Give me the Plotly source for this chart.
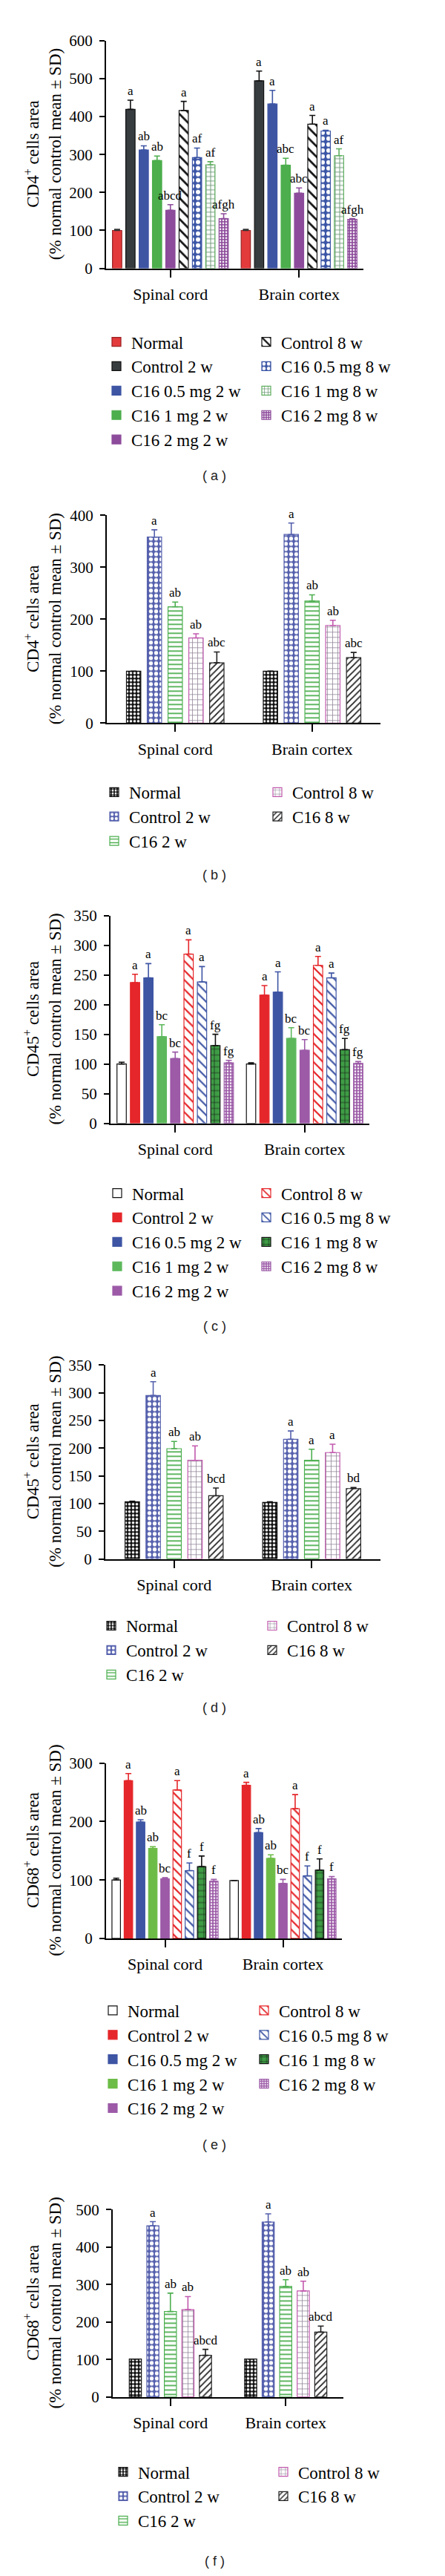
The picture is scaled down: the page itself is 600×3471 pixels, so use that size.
import plotly.graph_objects as go

W, H = 600, 3471
ML = MR = 10
PW = W - ML - MR

regions = ["Spinal cord", "Brain cortex"]

groups_9 = ["Normal", "Control 2 w", "C16 0.5 mg 2 w", "C16 1 mg 2 w", "C16 2 mg 2 w",
            "Control 8 w", "C16 0.5 mg 8 w", "C16 1 mg 8 w", "C16 2 mg 8 w"]
groups_5 = ["Normal", "Control 2 w", "C16 2 w", "Control 8 w", "C16 8 w"]

# (a) CD4+ area, dose groups
a_spinal = [100, 419, 312, 284, 153, 416, 292, 273, 131]
a_spinal_sd = [3, 24, 11, 12, 15, 24, 25, 8, 13]
a_brain = [100, 494, 433, 272, 198, 380, 362, 297, 129]
a_brain_sd = [3, 26, 36, 18, 14, 23, 2, 18, 2]
a_spinal_sig = ["", "a", "ab", "ab", "abcd", "a", "af", "af", "afgh"]
a_brain_sig = ["", "a", "a", "abc", "abc", "a", "a", "af", "afgh"]

# (b) CD4+ area
b_spinal = [100, 358, 224, 164, 116]
b_spinal_sd = [0, 14, 9, 8, 21]
b_brain = [100, 363, 235, 188, 126]
b_brain_sd = [0, 22, 12, 10, 10]
b_spinal_sig = ["", "a", "ab", "ab", "abc"]
b_brain_sig = ["", "a", "ab", "ab", "abc"]

# (c) CD45+ area, dose groups
c_spinal = [100, 237, 245, 146, 109, 285, 238, 131, 102]
c_spinal_sd = [3, 14, 24, 20, 11, 24, 26, 19, 4]
c_brain = [100, 216, 221, 143, 123, 266, 245, 124, 101]
c_brain_sd = [2, 16, 34, 18, 18, 15, 8, 19, 3]
c_spinal_sig = ["", "a", "a", "bc", "bc", "a", "a", "fg", "fg"]
c_brain_sig = ["", "a", "a", "bc", "bc", "a", "a", "fg", "fg"]

# (d) CD45+ area
d_spinal = [103, 295, 199, 178, 114]
d_spinal_sd = [1, 25, 13, 26, 14]
d_brain = [102, 216, 178, 192, 127]
d_brain_sd = [1, 15, 20, 15, 2]
d_spinal_sig = ["", "a", "ab", "ab", "bcd"]
d_brain_sig = ["", "a", "a", "a", "bd"]

# (e) CD68+ area, dose groups
e_spinal = [100, 270, 199, 154, 102, 254, 116, 123, 98]
e_spinal_sd = [3, 12, 4, 3, 2, 16, 13, 18, 3]
e_brain = [99, 262, 181, 137, 94, 222, 107, 117, 102]
e_brain_sd = [0, 5, 7, 6, 7, 24, 17, 19, 4]
e_spinal_sig = ["", "a", "ab", "ab", "bc", "a", "f", "f", "f"]
e_brain_sig = ["", "a", "ab", "ab", "bc", "a", "f", "f", "f"]

# (f) CD68+ area
f_spinal = [101, 457, 228, 233, 111]
f_spinal_sd = [0, 11, 49, 35, 16]
f_brain = [101, 467, 295, 283, 173]
f_brain_sd = [0, 22, 18, 26, 16]
f_spinal_sig = ["", "a", "ab", "ab", "abcd"]
f_brain_sig = ["", "a", "ab", "ab", "abcd"]

SERIF = "Liberation Serif"
SANS = "Liberation Sans"

# bar looks
def st(fill, line, err=None, shape="", fg=None, size=8, sol=0.3):
    return dict(fill=fill, line=line, err=err or line, shape=shape, fg=fg, size=size, sol=sol)

style_a = [
    st("#e33b3c", "#9a1f20", "#333333"),
    st("#373c3f", "#111111"),
    st("#3e55a4", "#3e55a4"),
    st("#4cae4c", "#4cae4c"),
    st("#8d4b9b", "#8d4b9b"),
    st("white", "#111111", shape="\\", fg="#111111", size=10, sol=0.28),
    st("#3a54a5", "#3a54a5", shape=".", fg="white", size=8, sol=0.45),
    st("white", "#5fae5f", shape="+", fg="#6f9a78", size=6, sol=0.3),
    st("#8d4b9b", "#8d4b9b", shape=".", fg="white", size=4, sol=0.35),
]
style_b = [
    st("#111111", "#111111", shape=".", fg="white", size=5, sol=0.4),
    st("#5560ad", "#5560ad", shape=".", fg="white", size=7, sol=0.45),
    st("white", "#4daf50", shape="-", fg="#4daf50", size=6, sol=0.3),
    st("white", "#c25aae", shape="+", fg="#8c7e92", size=7, sol=0.2),
    st("white", "#222222", shape="/", fg="#222222", size=6, sol=0.3),
]
style_c = [
    st("white", "#111111"),
    st("#e5262a", "#e5262a"),
    st("#3e55a4", "#3e55a4"),
    st("#5db85c", "#5db85c"),
    st("#9c5aa7", "#9c5aa7"),
    st("white", "#e5262a", shape="\\", fg="#e5262a", size=9, sol=0.25),
    st("white", "#3e55a4", shape="\\", fg="#3e55a4", size=9, sol=0.25),
    st("#3e9c45", "#111111", shape="+", fg="#111111", size=8, sol=0.15),
    st("#9c5aa7", "#9c5aa7", shape=".", fg="white", size=4, sol=0.35),
]
style_e = [dict(s) for s in style_c]
style_e[3] = st("#6dbc47", "#6dbc47")

cd_title = "{}<sup>+</sup> cells area<br>(% normal control mean ± SD)"

panels = [
    dict(names=groups_9, sp=a_spinal, sp_sd=a_spinal_sd, br=a_brain, br_sd=a_brain_sd,
         sp_sig=a_spinal_sig, br_sig=a_brain_sig, style=style_a, marker="CD4", tag="a",
         x0=135, x1=482, yb=344, yt=35, top=600, dtick=100, leg=(169, 443, 202), lab=625),
    dict(names=groups_5, sp=b_spinal, sp_sd=b_spinal_sd, br=b_brain, br_sd=b_brain_sd,
         sp_sig=b_spinal_sig, br_sig=b_brain_sig, style=style_b, marker="CD4", tag="b",
         x0=136, x1=505, yb=961, yt=679, top=400, dtick=100, leg=(166, 1054, 220), lab=1167),
    dict(names=groups_9, sp=c_spinal, sp_sd=c_spinal_sd, br=c_brain, br_sd=c_brain_sd,
         sp_sig=c_spinal_sig, br_sig=c_brain_sig, style=style_c, marker="CD45", tag="c",
         x0=141, x1=490, yb=1504, yt=1222, top=350, dtick=50, leg=(170, 1598, 201), lab=1779),
    dict(names=groups_5, sp=d_spinal, sp_sd=d_spinal_sd, br=d_brain, br_sd=d_brain_sd,
         sp_sig=d_spinal_sig, br_sig=d_brain_sig, style=style_b, marker="CD45", tag="d",
         x0=134, x1=505, yb=2095, yt=1832, top=350, dtick=50, leg=(162, 2185, 217), lab=2297),
    dict(names=groups_9, sp=e_spinal, sp_sd=e_spinal_sd, br=e_brain, br_sd=e_brain_sd,
         sp_sig=e_spinal_sig, br_sig=e_brain_sig, style=style_e, marker="CD68", tag="e",
         x0=135, x1=453, yb=2610, yt=2372, top=300, dtick=100, leg=(164, 2707, 204), lab=2890),
    dict(names=groups_5, sp=f_spinal, sp_sd=f_spinal_sd, br=f_brain, br_sd=f_brain_sd,
         sp_sig=f_spinal_sig, br_sig=f_brain_sig, style=style_b, marker="CD68", tag="f",
         x0=144, x1=455, yb=3232, yt=2978, top=500, dtick=100, leg=(178, 3333, 216), lab=3455),
]


def px_x(v):
    return (v - ML) / PW


def px_y(v):
    return 1 - v / H


fig = go.Figure()
annotations = []
layout = {}

for k, p in enumerate(panels, start=1):
    sfx = "" if k == 1 else str(k)
    xa, ya, lg = "x" + sfx, "y" + sfx, "legend" + sfx
    names = p["names"]
    n = len(names)
    slot, bw = (0.1035, 0.072) if n == 9 else (0.152, 0.105)
    half = (n + 1) // 2

    for i, name in enumerate(names):
        s = p["style"][i]
        centre = (i - (n - 1) / 2) * slot
        rank = 2 * i if i < half else 2 * (i - half) + 1
        mk = dict(color=s["fill"], line=dict(color=s["line"], width=1.2))
        if s["shape"]:
            mk["pattern"] = dict(shape=s["shape"], fgcolor=s["fg"], fgopacity=1,
                                 size=s["size"], solidity=s["sol"], fillmode="overlay")
        fig.add_trace(go.Bar(
            x=regions, y=[p["sp"][i], p["br"][i]], name=name,
            xaxis=xa, yaxis=ya, legend=lg, legendrank=rank + 1,
            width=bw, offset=centre - bw / 2, marker=mk,
            error_y=dict(type="data", symmetric=False,
                         array=[p["sp_sd"][i], p["br_sd"][i]], arrayminus=[0, 0],
                         color=s["err"], thickness=1.6, width=4),
        ))
        for j, (v, e, sig) in enumerate([(p["sp"][i], p["sp_sd"][i], p["sp_sig"][i]),
                                         (p["br"][i], p["br_sd"][i], p["br_sig"][i])]):
            if sig:
                annotations.append(dict(
                    x=j + centre, y=v + e, xref=xa, yref=ya, text=sig, showarrow=False,
                    yanchor="bottom", yshift=1, font=dict(family=SERIF, size=17, color="black")))

    layout["xaxis" + sfx] = dict(
        domain=[px_x(p["x0"]), px_x(p["x1"])], anchor=ya, type="category",
        range=[-0.5, 1.5], showline=True, linecolor="black", linewidth=2,
        ticks="outside", ticklen=10, tickwidth=1.6, tickcolor="black",
        ticklabelstandoff=4, showgrid=False, zeroline=False,
        tickfont=dict(family=SERIF, size=22, color="black"))
    layout["yaxis" + sfx] = dict(
        domain=[px_y(p["yb"]), px_y(p["yt"])], anchor=xa, range=[0, p["top"]],
        tick0=0, dtick=p["dtick"], showline=True, linecolor="black", linewidth=2,
        ticks="outside", ticklen=7, tickwidth=1.6, tickcolor="black",
        ticklabelstandoff=5, showgrid=False, zeroline=False,
        tickfont=dict(family=SERIF, size=21, color="black"))

    tx, row1, colsp = p["leg"]
    layout[lg] = dict(
        orientation="h", x=px_x(tx - 40), y=px_y(row1 - 21), xanchor="left", yanchor="top",
        entrywidth=colsp - 45, entrywidthmode="pixels", bgcolor="rgba(0,0,0,0)",
        font=dict(family=SERIF, size=23, color="black"), tracegroupgap=0)

    annotations.append(dict(
        x=px_x(50), y=px_y((p["yb"] + p["yt"]) / 2), xref="paper", yref="paper",
        text=cd_title.format(p["marker"]), textangle=-90, showarrow=False,
        xanchor="center", yanchor="middle", font=dict(family=SERIF, size=23, color="black")))
    annotations.append(dict(
        x=px_x(281), y=px_y(p["lab"]), xref="paper", yref="paper",
        text="( {} )".format(p["tag"]), showarrow=False, xanchor="center", yanchor="middle",
        font=dict(family=SANS, size=18, color="#222222")))

fig.update_layout(
    width=W, height=H, margin=dict(l=ML, r=MR, t=0, b=0),
    paper_bgcolor="white", plot_bgcolor="white", barmode="overlay",
    showlegend=True, annotations=annotations, **layout)

fig.write_html("out.html")
